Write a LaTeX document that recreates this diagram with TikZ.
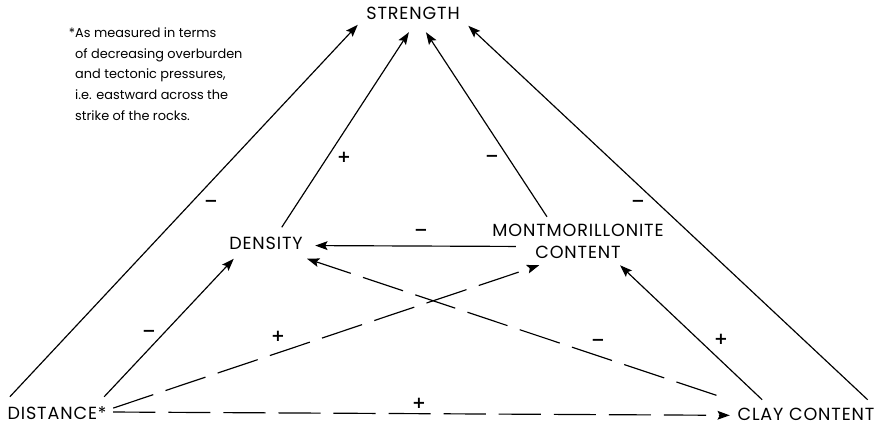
\documentclass[tikz,border=0pt]{standalone}
\usepackage{fontspec}
\setmainfont{Poppins}
\newfontfamily\varfont{Poppins}[LetterSpace=5]
\newfontfamily\signfont{DejaVu Sans}
\usetikzlibrary{arrows.meta}

\tikzset{
  var/.style={inner sep=0pt, font=\varfont\fontsize{15}{18.7}\selectfont},
  note/.style={inner sep=0pt, align=left, font=\fontsize{11}{17.9}\selectfont},
  sign/.style={inner sep=0pt, font=\signfont\fontsize{14}{14}\bfseries\selectfont},
  link/.style={line width=1pt, -{Stealth[length=10.5pt,width=7.5pt,inset=2pt]}},
  dashlink/.style={link, dash pattern=on 36pt off 11pt},
}

\begin{document}
\begin{tikzpicture}[x=0.03cm, y=-0.03cm]
  \useasboundingbox (0,0) rectangle (878,425);

  % variables
  \node[var, minimum width=3.3cm, minimum height=1.14cm] (str) at (413,13) {STRENGTH};
  \node[var, minimum width=2.94cm, minimum height=0.93cm] (dens) at (266,243) {DENSITY};
  \node[var, minimum width=3.72cm, minimum height=1.44cm,
        label={[var, align=center]center:MONTMORILLONITE\\CONTENT}] (mont) at (578,241) {};
  \node[var, minimum width=3.36cm, minimum height=0.96cm] (dist) at (57,413) {DISTANCE*};
  \node[var, minimum width=4.56cm, minimum height=0.84cm] (clay) at (806,414) {CLAY CONTENT};

  % footnote for the asterisk
  \node[note, anchor=north west] (foot) at (75,27)
    {\llap{*}As measured in terms\\of decreasing overburden\\and tectonic pressures,\\i.e. eastward across the\\strike of the rocks.};

  % solid links
  \draw[link] (dist.161) -- (str.192);
  \draw[link] (dist.19) -- (dens.206.6);
  \draw[link] (dens.45) -- (str.258);
  \draw[link] (mont.142.3) -- (str.304.4);
  \draw[link] (clay.13.5) -- (str.-13.8);
  \draw[link] (mont.185.5) -- (dens.-3.5);
  \draw[link] (clay.162.3) -- (mont.-30.3);

  % dashed links
  \draw[dashlink] (dist.5.6) -- (mont.212.3);
  \draw[dashlink, shorten <=12pt] (clay.north west) -- (dens.-21);
  \draw[dashlink] (dist.1) -- (clay.181);

  % signs
  \node[sign] (s1) at (211,203) {−};
  \node[sign] (s2) at (344,157) {+};
  \node[sign] (s3) at (492,158) {−};
  \node[sign] (s4) at (638,203) {−};
  \node[sign] (s5) at (421,232) {−};
  \node[sign] (s6) at (149,333) {−};
  \node[sign] (s7) at (278,336) {+};
  \node[sign] (s8) at (598,342) {−};
  \node[sign] (s9) at (721,339) {+};
  \node[sign] (s10) at (419,403) {+};
\end{tikzpicture}
\end{document}
